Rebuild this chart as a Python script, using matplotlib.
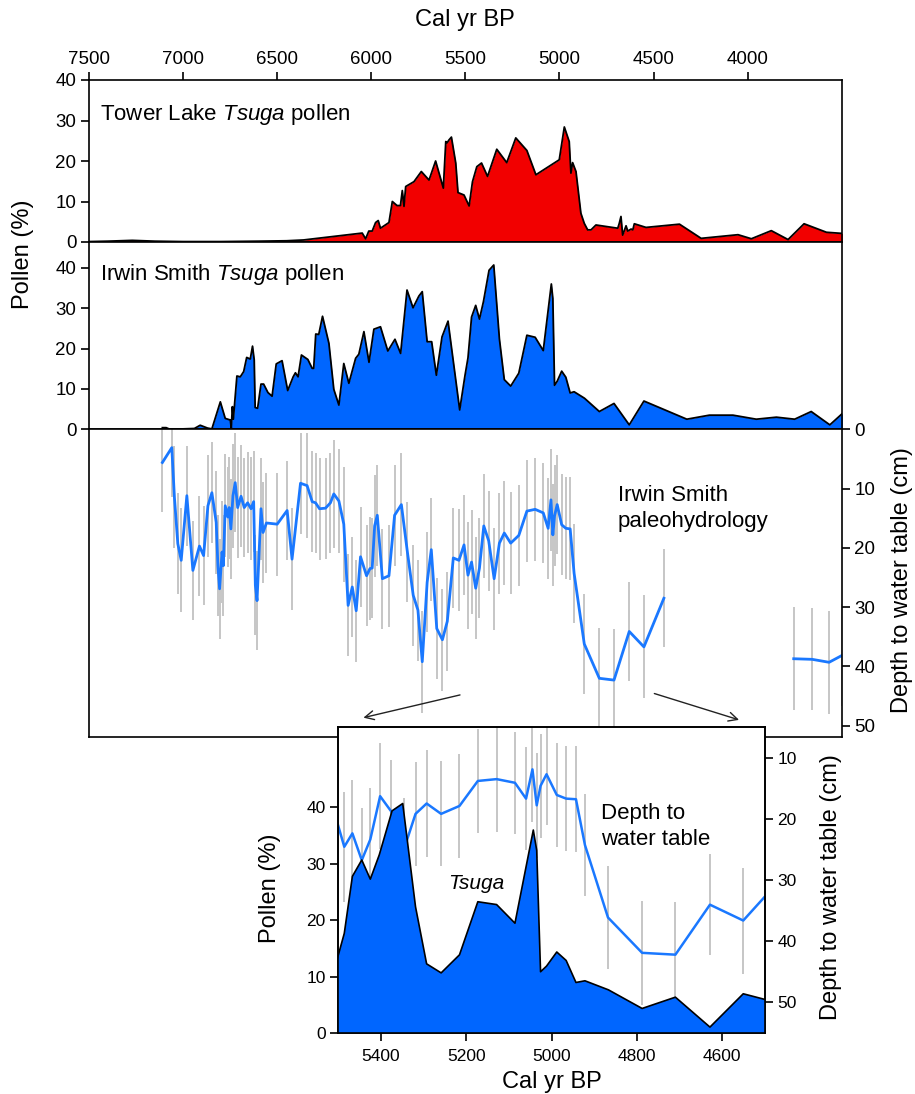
import numpy as np
import matplotlib
matplotlib.use("Agg")
import matplotlib.pyplot as plt

plt.rcParams['font.family'] = ['Liberation Sans', 'DejaVu Sans']
plt.rcParams['mathtext.fontset'] = 'custom'
plt.rcParams['mathtext.rm'] = 'Liberation Sans'
plt.rcParams['mathtext.it'] = 'Liberation Sans:italic'

# Tower Lake Tsuga pollen (%)
tl_year = [7500, 7400, 7270, 7150, 7000, 6800, 6600, 6450, 6360, 6048, 6030, 6013, 5995, 5977, 5963,
           5951, 5906, 5888, 5863, 5845, 5835, 5826, 5817, 5773, 5734, 5693, 5658, 5617, 5604, 5597,
           5587, 5574, 5551, 5539, 5507, 5480, 5462, 5439, 5414, 5382, 5333, 5280, 5232, 5173, 5125,
           5001, 4974, 4948, 4939, 4930, 4912, 4886, 4868, 4850, 4832, 4806, 4690, 4682, 4673, 4664,
           4646, 4637, 4619, 4610, 4602, 4540, 4362, 4247, 4051, 3980, 3874, 3785, 3700, 3581, 3492]
tl_pct = [0.1, 0.2, 0.4, 0.2, 0.1, 0.1, 0.2, 0.3, 0.5, 2.2, 0.8, 2.7, 2.7, 4.8, 5.3,
          3.4, 4.8, 10.0, 9.0, 9.0, 12.7, 8.8, 13.7, 14.9, 17.4, 15.3, 20.0, 13.3, 24.8, 24.5,
          25.2, 25.9, 19.5, 12.2, 11.6, 8.9, 14.9, 18.6, 19.5, 16.2, 22.9, 19.6, 25.7, 22.6, 16.6,
          20.3, 28.4, 24.8, 17.0, 19.6, 17.4, 7.1, 4.6, 3.0, 3.0, 4.2, 3.4, 4.6, 6.3, 1.7,
          4.0, 2.7, 3.2, 3.0, 4.5, 3.6, 4.4, 0.9, 1.8, 0.8, 2.8, 0.6, 4.5, 2.4, 2.1]

# Irwin Smith Tsuga pollen (%)
is_year = [7110, 7090, 7075, 7000, 6940, 6909, 6870, 6847, 6802, 6776, 6749, 6744, 6738, 6733, 6714,
           6696, 6678, 6662, 6643, 6631, 6622, 6617, 6604, 6586, 6572, 6549, 6527, 6505, 6474, 6444,
           6415, 6403, 6389, 6371, 6337, 6314, 6306, 6295, 6279, 6259, 6225, 6199, 6172, 6146, 6119,
           6083, 6066, 6039, 6012, 5986, 5951, 5912, 5874, 5844, 5810, 5778, 5747, 5729, 5703, 5679,
           5654, 5624, 5592, 5530, 5502, 5486, 5467, 5445, 5425, 5404, 5374, 5349, 5319, 5293, 5259,
           5216, 5173, 5129, 5086, 5043, 5035, 5026, 5012, 4988, 4966, 4943, 4922, 4867, 4788, 4710,
           4629, 4551, 4323, 4203, 4078, 3954, 3847, 3750, 3662, 3563, 3492]
is_pct = [0.4, 0.4, 0.1, 0.1, 0.2, 1.0, 0.3, 0.1, 6.8, 2.7, 2.3, 0.3, 5.6, 2.5, 13.2,
          13.0, 14.3, 17.8, 17.4, 20.6, 17.2, 5.4, 5.2, 11.2, 11.2, 9.1, 8.2, 16.2, 17.0, 9.6,
          13.0, 14.0, 13.0, 18.4, 17.3, 15.1, 15.1, 23.6, 23.5, 28.0, 21.3, 9.9, 6.0, 16.3, 11.4,
          17.6, 18.6, 24.2, 16.6, 24.8, 25.4, 19.4, 22.3, 18.8, 34.5, 30.1, 33.0, 34.1, 21.7, 21.7,
          13.4, 22.9, 26.8, 4.8, 13.3, 17.7, 27.8, 30.7, 27.3, 31.6, 39.4, 40.7, 22.4, 12.3, 10.7,
          13.9, 23.3, 22.8, 19.5, 36.0, 32.4, 10.9, 11.9, 14.4, 12.9, 9.0, 9.3, 7.7, 4.4, 6.4,
          1.1, 7.0, 2.5, 3.5, 3.5, 2.5, 3.0, 2.5, 4.4, 1.1, 4.1]

# Irwin Smith depth to water table (cm) with error
nan = np.nan
wt_year = [7110, 7060, 7046, 7028, 7010, 6980, 6948, 6913, 6891, 6868,
           6847, 6824, 6815, 6806, 6793, 6786, 6776, 6762, 6755, 6746,
           6735, 6723, 6710, 6692, 6675, 6657, 6639, 6625, 6616, 6607,
           6586, 6575, 6557, 6500, 6447, 6421, 6376, 6341, 6314, 6296,
           6275, 6243, 6217, 6199, 6172, 6146, 6123, 6101, 6080, 6057,
           6025, 6007, 5995, 5982, 5968, 5941, 5906, 5876, 5840, 5808,
           5777, 5752, 5729, 5703, 5681, 5652, 5622, 5596, 5564, 5534,
           5507, 5486, 5467, 5445, 5425, 5402, 5376, 5347, 5319, 5293,
           5259, 5216, 5173, 5129, 5086, 5060, 5045, 5035, 5026, 5012,
           4988, 4966, 4943, 4922, 4868, 4788, 4710, 4629, 4551, 4445,
           4100, 3755, 3657, 3567, 3496]
wt_cm = [5.6, 3.1, 11.5, 19.3, 22.1, 11.2, 23.8, 19.7, 21.3, 12.9,
         10.7, 15.7, 23.0, 26.9, 20.7, 23.0, 12.9, 14.8, 13.2, 16.8,
         11.2, 9.0, 13.2, 11.3, 13.2, 12.4, 13.4, 12.2, 26.3, 28.9,
         13.4, 17.4, 15.8, 16.0, 13.7, 21.9, 9.1, 9.5, 12.2, 12.4,
         13.4, 13.3, 12.4, 10.9, 12.1, 16.0, 29.7, 26.6, 30.6, 21.5,
         24.7, 23.5, 23.4, 16.3, 14.5, 25.2, 24.7, 14.5, 12.7, 20.7,
         28.0, 30.5, 39.2, 25.8, 20.3, 33.6, 35.5, 32.4, 21.7, 22.1,
         19.5, 24.6, 22.4, 26.8, 23.4, 16.3, 18.8, 25.2, 19.2, 17.5,
         19.2, 17.9, 13.8, 13.5, 14.1, 16.7, 11.9, 17.8, 14.6, 12.7,
         16.1, 16.7, 16.8, 24.3, 36.2, 42.0, 42.3, 34.1, 36.7, 28.5,
         nan, 38.7, 38.8, 39.3, 38.1]
wt_err = [8.3, 8.4, 8.6, 8.5, 8.8, 8.4, 8.3, 8.5, 8.4, 8.6,
          8.5, 8.7, 8.5, 8.4, 8.6, 8.5, 8.7, 8.4, 8.6, 8.5,
          8.8, 8.4, 8.5, 8.6, 8.4, 8.5, 8.7, 8.5, 8.4, 8.4,
          8.6, 8.5, 8.5, 8.7, 8.4, 8.6, 8.5, 8.8, 8.5, 8.4,
          8.6, 8.5, 8.4, 9.1, 8.7, 9.7, 8.6, 8.5, 8.6, 8.4,
          8.5, 8.7, 8.4, 8.6, 8.5, 8.4, 8.6, 8.5, 8.7, 8.5,
          8.5, 8.5, 8.6, 8.4, 8.7, 8.5, 8.6, 8.4, 8.5, 8.6,
          8.5, 9.0, 8.8, 8.6, 8.5, 8.7, 8.4, 8.6, 8.5, 8.7,
          8.6, 8.5, 8.6, 8.7, 8.4, 8.5, 8.6, 8.6, 8.5, 8.4,
          8.5, 8.6, 8.7, 8.4, 8.5, 8.5, 8.7, 8.3, 8.7, 8.3,
          nan, 8.7, 8.6, 8.7, 8.6]

main_xticks = [7500, 7000, 6500, 6000, 5500, 5000, 4500, 4000]
inset_xticks = [5400, 5200, 5000, 4800, 4600]

RED = '#f20000'
BLUE_FILL = '#0066ff'
BLUE_LINE = '#1a78ff'
GRAY = '#c6c6c6'

W, H = 915, 1094


def fx(x):
    return x / W


def fy(y):
    return 1 - y / H


def box(l, t, r, b):
    return [l / W, 1 - b / H, (r - l) / W, (b - t) / H]


def style(ax, size=13.5):
    for s in ax.spines.values():
        s.set_linewidth(1.2)
    ax.tick_params(direction='out', length=6, width=1.2, labelsize=size, pad=3)


fig = plt.figure(figsize=(W / 100, H / 100), dpi=100)

ax_top = fig.add_axes(box(89, 80, 841.7, 242))
ax_mid = fig.add_axes(box(89, 242, 841.7, 429.3))
ax_bot = fig.add_axes(box(89, 429.3, 841.7, 737))

# Tower Lake
ax_top.fill_between(tl_year, tl_pct, 0, color=RED, lw=0)
ax_top.plot(tl_year, tl_pct, color='black', lw=1.3)
ax_top.set_xlim(7500, 3500)
ax_top.set_ylim(0, 40)
ax_top.xaxis.tick_top()
ax_top.set_xticks(main_xticks)
ax_top.set_yticks([0, 10, 20, 30, 40])
style(ax_top)

# Irwin Smith pollen
ax_mid.fill_between(is_year, is_pct, 0, color=BLUE_FILL, lw=0)
ax_mid.plot(is_year, is_pct, color='black', lw=1.3)
ax_mid.set_xlim(7500, 3500)
ax_mid.set_ylim(0, 46.4)
ax_mid.set_xticks([])
ax_mid.set_yticks([0, 10, 20, 30, 40])
style(ax_mid)

# paleohydrology
yr = np.array(wt_year, dtype=float)
wt = np.array(wt_cm)
er = np.array(wt_err)
ax_bot.vlines(yr, wt - er, wt + er, colors=GRAY, lw=1.4, zorder=1)
ax_bot.plot(yr, wt, color=BLUE_LINE, lw=2.0, zorder=2)
ax_bot.set_xlim(7500, 3500)
ax_bot.set_ylim(51.9, 0)
ax_bot.set_xticks([])
ax_bot.yaxis.tick_right()
ax_bot.set_yticks([0, 10, 20, 30, 40, 50])
style(ax_bot)

# arrows to inset
arrow = dict(arrowstyle='->', lw=1.0, color='#222222', mutation_scale=16)
ax_bot.annotate('', xy=(fx(360.7), fy(718.3)), xytext=(fx(462.7), fy(694.3)),
                xycoords='figure fraction', textcoords='figure fraction', arrowprops=arrow)
ax_bot.annotate('', xy=(fx(741.7), fy(720.7)), xytext=(fx(651.7), fy(692.7)),
                xycoords='figure fraction', textcoords='figure fraction', arrowprops=arrow)

# inset: depth on the base axes (right), pollen on the twin drawn above (left)
ax_in = fig.add_axes(box(338.3, 726.7, 765, 1033.3))
ax_in2 = ax_in.twinx()

ax_in.vlines(yr, wt - er, wt + er, colors=GRAY, lw=1.4, zorder=1)
ax_in.plot(yr, wt, color=BLUE_LINE, lw=1.8, zorder=2)
ax_in.set_xlim(5500, 4500)
ax_in.set_ylim(55.2, 4.9)
ax_in.set_xticks(inset_xticks)

ax_in2.fill_between(is_year, is_pct, 0, color=BLUE_FILL, lw=0)
ax_in2.plot(is_year, is_pct, color='black', lw=1.2)
ax_in2.set_xlim(5500, 4500)
ax_in2.set_ylim(0, 54.3)

ax_in.yaxis.tick_right()
ax_in.set_yticks([10, 20, 30, 40, 50])
ax_in2.yaxis.tick_left()
ax_in2.set_yticks([0, 10, 20, 30, 40])
style(ax_in, 12.5)
style(ax_in2, 12.5)
ax_in.tick_params(axis='x', pad=5)

# labels
fig.text(fx(465), fy(20), 'Cal yr BP', ha='center', va='center', size=17)
fig.text(fx(23), fy(254), 'Pollen (%)', rotation=90, ha='center', va='center', size=17)
fig.text(fx(902), fy(580), 'Depth to water table (cm)', rotation=90, ha='center', va='center', size=17)
fig.text(fx(270), fy(888), 'Pollen (%)', rotation=90, ha='center', va='center', size=17)
fig.text(fx(831), fy(887), 'Depth to water table (cm)', rotation=90, ha='center', va='center', size=17)
fig.text(fx(551.5), fy(1082), 'Cal yr BP', ha='center', va='center', size=17)

fig.text(fx(100), fy(120), 'Tower Lake $\\mathit{Tsuga}$ pollen', va='baseline', size=16)
fig.text(fx(100), fy(280), 'Irwin Smith $\\mathit{Tsuga}$ pollen', va='baseline', size=16)
fig.text(fx(618), fy(501), 'Irwin Smith', va='baseline', size=16)
fig.text(fx(618), fy(527), 'paleohydrology', va='baseline', size=16)
fig.text(fx(448), fy(889), 'Tsuga', style='italic', va='baseline', size=15)
fig.text(fx(601), fy(819), 'Depth to', va='baseline', size=16)
fig.text(fx(601), fy(845), 'water table', va='baseline', size=16)

fig.savefig('out.png', dpi=100)
